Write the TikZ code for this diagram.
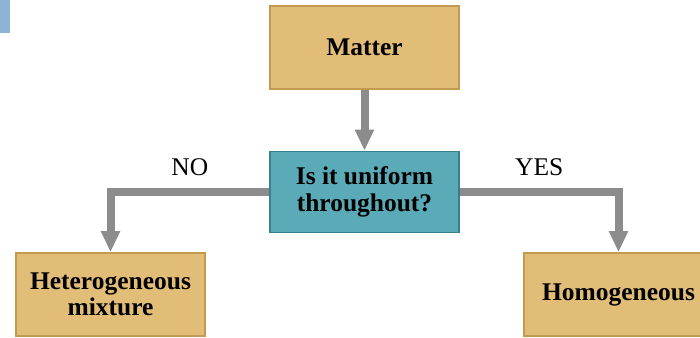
\documentclass[tikz,border=0pt]{standalone}
\usepackage{fontspec}
\setmainfont{Liberation Serif}
\usetikzlibrary{positioning,arrows.meta}

\definecolor{boxtan}{HTML}{E2BD78}
\definecolor{boxtanedge}{HTML}{C39A52}
\definecolor{boxteal}{HTML}{5AAAB8}
\definecolor{boxtealedge}{HTML}{37808E}
\definecolor{flowgray}{HTML}{8C8C8C}
\definecolor{cornerblue}{HTML}{8FB3D4}

\tikzset{
  classbox/.style={rectangle, fill=boxtan, draw=boxtanedge, line width=1pt, minimum height=1.66cm, minimum width=3.78cm, align=center, font=\fontsize{14.5}{15}\selectfont\bfseries},
  askbox/.style={classbox, fill=boxteal, draw=boxtealedge, minimum height=1.62cm},
  flow/.style={draw=flowgray, line width=0.16cm, -{Triangle[width=0.36cm,length=0.42cm]}},
  answer/.style={font=\fontsize{14.5}{15}\selectfont, inner sep=0pt, above=0.24cm}
}

\begin{document}
\begin{tikzpicture}
      \useasboundingbox (0, 0) rectangle (14, -6.74);
      \clip (0, 0) rectangle (14, -6.74);
      %\draw[help lines] (0, -7) grid (14, 0);

      \fill[cornerblue] (0, 0) rectangle (0.2, -0.66);

      \node [classbox] (matter) at (7.29, -0.95) {Matter};
      \node [askbox] (uniform) at (7.29, -3.84) {Is it uniform\\throughout?};
      \node [classbox] (hetero) at (2.21, -5.89) {Heterogeneous\\mixture};
      \node [classbox] (homo) at (12.37, -5.89) {Homogeneous};

      \draw[flow] (matter) -- (uniform);
      \draw[flow] (uniform.west) -| node[answer, pos=0.25] {NO} (hetero.north);
      \draw[flow] (uniform.east) -| node[answer, pos=0.25] {YES} (homo.north);

    \end{tikzpicture}
\end{document}
